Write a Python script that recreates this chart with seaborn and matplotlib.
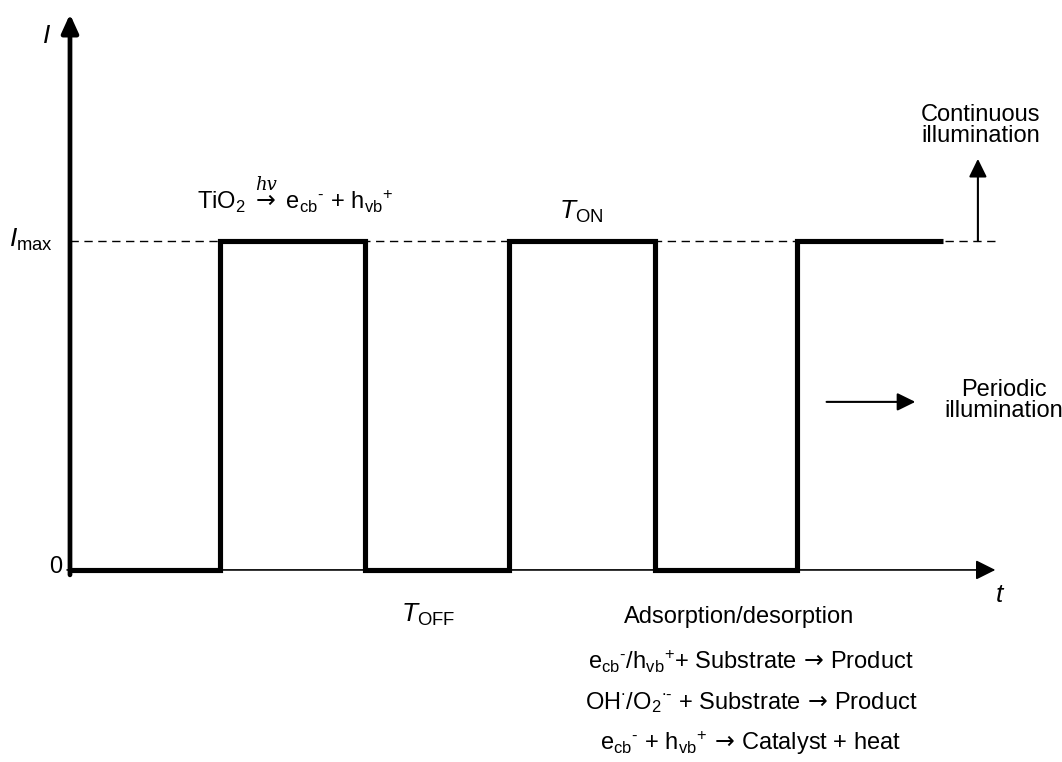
"""
Periodic vs continuous illumination sketch (TiO2 photocatalysis).
"""

import matplotlib.pyplot as plt
import numpy as np
import pandas as pd
import seaborn as sns

# switching times of the light (t, arbitrary units) and intensity level after each switch
t_edges = [0.0, 1.03, 2.03, 3.02, 4.02, 5.0, 6.0]
levels = [0, 1, 0, 1, 0, 1, 1]
i_max = 1.0
t_end = 6.36
i_top = 1.69

ARROW = r" $\mathsf{\rightarrow}$ "
ARROW_TIGHT = r"$\,\mathsf{\rightarrow}\,$"
bottom_lines = [
    "Adsorption/desorption",
    r"$\mathrm{{e_{cb}}^{\text{-}}/{h_{vb}}^{+}}$+ Substrate" + ARROW_TIGHT + "Product",
    r"$\mathrm{OH^{\bullet}/{O_{2}}^{\bullet\text{-}}}$ + Substrate" + ARROW_TIGHT + "Product",
    r"$\mathrm{{e_{cb}}^{\text{-}}}$ + $\mathrm{{h_{vb}}^{+}}$" + ARROW_TIGHT + "Catalyst + heat",
]
bottom_x = [4.60, 4.68, 4.68, 4.68]
bottom_y = [-0.143, -0.280, -0.404, -0.526]

sns.set_theme(style="white")
plt.rcParams["font.family"] = ["Liberation Sans", "DejaVu Sans"]
plt.rcParams["mathtext.fontset"] = "custom"
plt.rcParams["mathtext.rm"] = "Liberation Sans"
plt.rcParams["mathtext.it"] = "Liberation Sans:italic"
plt.rcParams["mathtext.sf"] = "DejaVu Sans"
plt.rcParams["text.color"] = "black"

fig = plt.figure(figsize=(10.62, 7.62), dpi=100)
ax = fig.add_axes([0, 0, 1, 1])
ax.set_xlim(-0.481, 6.818)
ax.set_ylim(-0.584, 1.733)
ax.axis("off")

# dashed I_max reference
ax.plot([0, t_end], [i_max, i_max], color="black", lw=1.0, ls=(0, (6, 4)))

# axes with arrow heads
ax.annotate("", xy=(0, i_top), xytext=(0, -0.015),
            arrowprops=dict(arrowstyle="-|>,head_length=0.55,head_width=0.25",
                            lw=3.4, color="black", mutation_scale=20,
                            shrinkA=0, shrinkB=0))
ax.annotate("", xy=(t_end, 0), xytext=(-0.02, 0),
            arrowprops=dict(arrowstyle="-|>,head_length=0.6,head_width=0.3",
                            lw=1.2, color="black", mutation_scale=20,
                            shrinkA=0, shrinkB=0))

# square wave
df = pd.DataFrame({"t": t_edges, "I": levels})
sns.lineplot(data=df, x="t", y="I", ax=ax, color="black", lw=3.7,
             drawstyle="steps-post", estimator=None, sort=False,
             solid_capstyle="butt", solid_joinstyle="miter")

# axis labels
fs = 17
ax.text(-0.158, 1.602, "I", fontsize=19, style="italic", ha="center", va="baseline")
ax.text(-0.117, 0.982, r"$\mathit{I}_{\mathrm{max}}$", fontsize=19, ha="right", va="baseline")
ax.text(-0.055, 0.01, "0", fontsize=fs, ha="right", va="center")
ax.text(6.385, -0.097, "t", fontsize=19, style="italic", ha="center", va="baseline")
ax.text(2.46, -0.158, r"$\mathit{T}_{\mathrm{OFF}}$", fontsize=19, ha="center", va="baseline")
ax.text(3.51, 1.067, r"$\mathit{T}_{\mathrm{ON}}$", fontsize=19, ha="center", va="baseline")

# excitation equation
ax.text(1.546, 1.097,
        r"$\mathrm{TiO_{2}}$" + ARROW + r"$\mathrm{{e_{cb}}^{\text{-}}}$ + $\mathrm{{h_{vb}}^{+}}$",
        fontsize=fs, ha="center", va="baseline")
ax.text(1.35, 1.155, "hv", fontsize=13, family="DejaVu Serif", style="italic",
        ha="center", va="baseline")

# continuous illumination
ax.annotate("", xy=(6.24, 1.25), xytext=(6.24, i_max),
            arrowprops=dict(arrowstyle="-|>,head_length=0.55,head_width=0.27",
                            lw=1.5, color="black", mutation_scale=20,
                            shrinkA=0, shrinkB=0))
ax.text(6.26, 1.351, "Continuous\nillumination", fontsize=fs, ha="center",
        va="center", linespacing=0.95)

# periodic illumination
ax.annotate("", xy=(5.81, 0.511), xytext=(5.20, 0.511),
            arrowprops=dict(arrowstyle="-|>,head_length=0.55,head_width=0.27",
                            lw=1.5, color="black", mutation_scale=20,
                            shrinkA=0, shrinkB=0))
ax.text(6.42, 0.514, "Periodic\nillumination", fontsize=fs, ha="center",
        va="center", linespacing=0.95)

# processes in the dark / under light
for x, y, line in zip(bottom_x, bottom_y, bottom_lines):
    ax.text(x, y, line, fontsize=fs, ha="center", va="center")

fig.savefig("out.png", dpi=100)
plt.close(fig)
